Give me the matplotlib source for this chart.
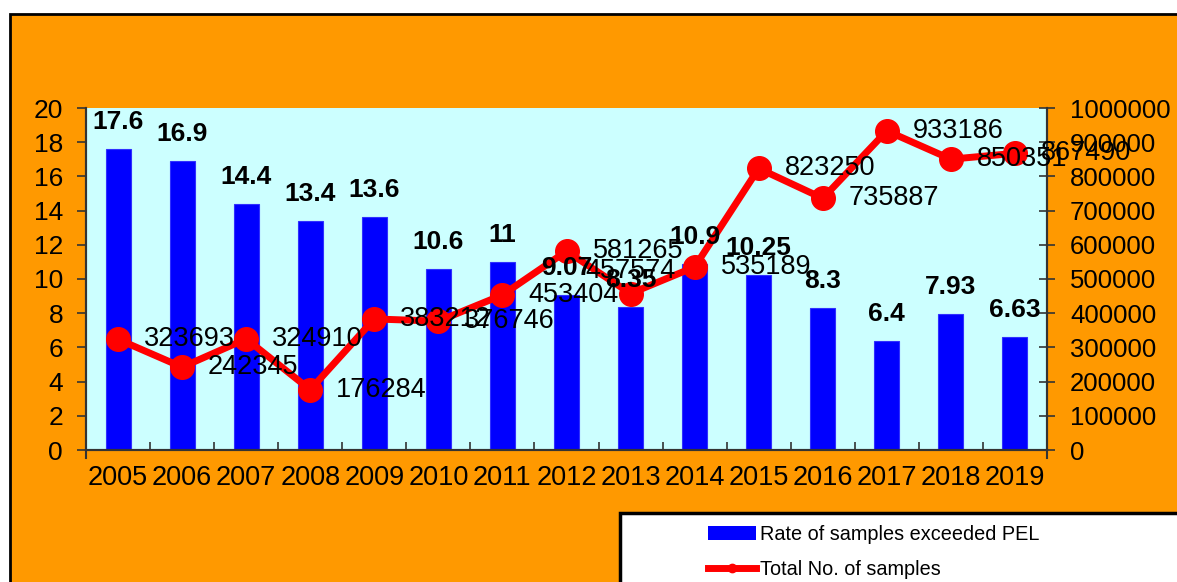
import matplotlib
matplotlib.use("Agg")
import matplotlib.pyplot as plt
import numpy as np
from matplotlib.patches import Rectangle, Patch
from matplotlib.lines import Line2D

plt.rcParams["font.family"] = ["Liberation Sans", "DejaVu Sans"]

years = ["2005", "2006", "2007", "2008", "2009", "2010", "2011", "2012",
         "2013", "2014", "2015", "2016", "2017", "2018", "2019"]
rate_exceeded = [17.6, 16.9, 14.4, 13.4, 13.6, 10.6, 11, 9.07,
                 8.35, 10.9, 10.25, 8.3, 6.4, 7.93, 6.63]
total_samples = [323693, 242345, 324910, 176284, 383212, 376746, 453404, 581265,
                 457574, 535189, 823250, 735887, 933186, 850351, 867490]
legend_labels = ["Rate of samples exceeded PEL", "Total No. of samples"]

W, H = 1177, 582
fig = plt.figure(figsize=(W / 100, H / 100), dpi=100)
fig.patch.set_facecolor("white")

# orange panel with black frame on the top/left edge
panel = Rectangle((10 / W, -0.05), 1.1, (H - 14) / H + 0.05, transform=fig.transFigure,
                  facecolor="#FF9900", edgecolor="black", linewidth=2, zorder=-10)
fig.add_artist(panel)

ax = fig.add_axes([86 / W, (H - 450) / H, 961 / W, 342 / H])
ax.set_facecolor("#CCFFFF")
x = np.arange(len(years))
ax.bar(x, rate_exceeded, width=0.39, color="#0000FF", edgecolor="#3030FF", linewidth=0.8)
ax.set_xlim(-0.5, len(years) - 0.5)
ax.set_ylim(0, 20)

ax2 = ax.twinx()
ax2.plot(x, total_samples, color="#FF0000", linewidth=5, marker="o", markersize=17)
ax2.set_ylim(0, 1000000)

# ticks
ax.set_xticks(x, years)
ax.set_xticks(np.arange(0.5, len(years) - 1, 1), minor=True)
ax.tick_params(axis="x", which="major", length=0, pad=11, labelsize=19.5)
ax.tick_params(axis="x", which="minor", direction="in", length=6, width=1.2, color="#333333")
ax.set_yticks(range(0, 21, 2))
ax.tick_params(axis="y", direction="out", length=6.5, width=1.2, color="#333333",
               pad=10, labelsize=19)
ax2.set_yticks(np.arange(0, 1000001, 100000))
ax2.set_yticklabels([f"{int(v)}" for v in np.arange(0, 1000001, 100000)])
ax2.tick_params(axis="y", direction="inout", length=12, width=1.2, color="#333333",
                pad=10.5, labelsize=18.5)

for a in (ax, ax2):
    a.spines["top"].set_visible(False)
    for s in ("left", "right", "bottom"):
        a.spines[s].set_color("#333333")
        a.spines[s].set_linewidth(1.5)
ax.spines["left"].set_bounds(-0.45, 20)
ax2.spines["right"].set_bounds(-22500, 1000000)

# value labels
for i in x:
    ax2.annotate(f"{rate_exceeded[i]:g}", xy=(i, rate_exceeded[i]), xycoords=ax.transData,
                 xytext=(0, 27), textcoords="offset pixels", ha="center", va="center",
                 fontsize=19, fontweight="bold", zorder=6)
for i in x:
    if years[i] == "2013":
        off, ha = (0, 23), "center"
    else:
        off, ha = (26, 0), "left"
    ax2.annotate(f"{total_samples[i]}", xy=(i, total_samples[i]), xytext=off,
                 textcoords="offset pixels", ha=ha, va="center", fontsize=19.5, zorder=6)

# legend box running off the bottom-right corner
box = Rectangle((620 / W, -0.1), 1, (H - 513) / H + 0.1, transform=fig.transFigure,
                facecolor="white", edgecolor="black", linewidth=2.5, zorder=4)
fig.add_artist(box)
handles = [Patch(facecolor="#0000FF"),
           Line2D([], [], color="#FF0000", linewidth=5, marker="o", markersize=6)]
fig.legend(handles, legend_labels, loc="upper left", bbox_to_anchor=(708 / W, (H - 525) / H),
           frameon=False, fontsize=14.3, handlelength=2.4, handletextpad=0.2,
           labelspacing=0.8, borderaxespad=0, borderpad=0)

fig.savefig("out.png", dpi=100)
